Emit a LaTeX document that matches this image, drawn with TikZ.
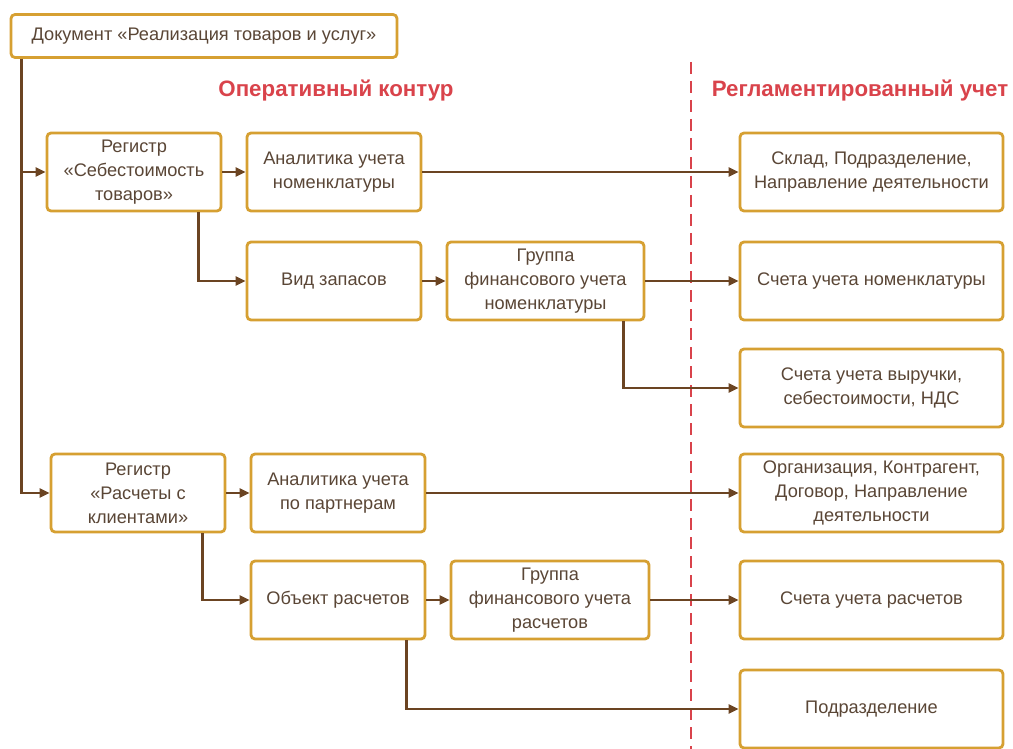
\documentclass[tikz,border=0pt]{standalone}
\usepackage{fontspec}
\setmainfont{Liberation Sans}
\usetikzlibrary{arrows.meta}
\definecolor{bordc}{HTML}{D6A032}
\definecolor{linec}{HTML}{6B4422}
\definecolor{txtc}{HTML}{5A4636}
\definecolor{redc}{HTML}{D9434B}
\tikzset{
  box/.style={draw=bordc, line width=2.8pt, rounded corners=4pt, fill=white,
    align=center, text=txtc, font=\fontsize{18.2}{24}\selectfont, inner sep=1pt},
  arr/.style={draw=linec, line width=2.8pt, -{Triangle[length=10pt,width=9pt]}},
  ttl/.style={text=redc, font=\fontsize{22.3}{26}\selectfont\bfseries},
  divider/.style={draw=redc, line width=2.4pt, dash pattern=on 12pt off 7pt}
}
\begin{document}
\begin{tikzpicture}[x=1pt,y=-1pt]
\useasboundingbox (0,0) rectangle (1013,749);
\draw[divider] (691,62) -- (691,749);
\node[ttl] (t1) at (336,91) {Оперативный контур};
\node[ttl] (t2) at (860,91) {Регламентированный учет};

\node[box, minimum width=386pt, minimum height=43pt] (doc) at (204,36) {Документ «Реализация товаров и услуг»};
\node[box, minimum width=174pt, minimum height=78pt] (reg1) at (134,172) {Регистр\\«Себестоимость\\товаров»};
\node[box, minimum width=174pt, minimum height=78pt] (anal1) at (334,172) {Аналитика учета\\номенклатуры};
\node[box, minimum width=263pt, minimum height=78pt] (r1) at (871.5,172) {Склад, Подразделение,\\Направление деятельности};
\node[box, minimum width=174pt, minimum height=78pt] (vid) at (334,281) {Вид запасов};
\node[box, minimum width=197pt, minimum height=78pt] (g1) at (545.5,281) {Группа\\финансового учета\\номенклатуры};
\node[box, minimum width=263pt, minimum height=78pt] (r2) at (871.5,281) {Счета учета номенклатуры};
\node[box, minimum width=263pt, minimum height=78pt] (r3) at (871.5,388) {Счета учета выручки,\\себестоимости, НДС};
\node[box, minimum width=174pt, minimum height=78pt] (reg2) at (138,493) {Регистр\\«Расчеты с\\клиентами»};
\node[box, minimum width=174pt, minimum height=78pt] (anal2) at (338,493) {Аналитика учета\\по партнерам};
\node[box, minimum width=263pt, minimum height=78pt] (r4) at (871.5,493) {Организация, Контрагент,\\Договор, Направление\\деятельности};
\node[box, minimum width=174pt, minimum height=78pt] (obj) at (338,600) {Объект расчетов};
\node[box, minimum width=198pt, minimum height=78pt] (g2) at (550,600) {Группа\\финансового учета\\расчетов};
\node[box, minimum width=263pt, minimum height=78pt] (r5) at (871.5,600) {Счета учета расчетов};
\node[box, minimum width=263pt, minimum height=78pt] (r6) at (871.5,709) {Подразделение};

\coordinate (trunk) at ([xshift=12pt]doc.south west);
\coordinate (b1) at ([xshift=-24pt]reg1.south east);
\coordinate (b2) at ([xshift=-22pt]g1.south east);
\coordinate (b3) at ([xshift=-24pt]reg2.south east);
\coordinate (b4) at ([xshift=-20pt]obj.south east);

\draw[arr] (trunk) |- (reg1.west);
\draw[arr] (trunk) |- (reg2.west);
\draw[arr] (reg1.east) -- (anal1.west);
\draw[arr] (anal1.east) -- (r1.west);
\draw[arr] (b1) |- (vid.west);
\draw[arr] (vid.east) -- (g1.west);
\draw[arr] (g1.east) -- (r2.west);
\draw[arr] (b2) |- (r3.west);
\draw[arr] (reg2.east) -- (anal2.west);
\draw[arr] (anal2.east) -- (r4.west);
\draw[arr] (b3) |- (obj.west);
\draw[arr] (obj.east) -- (g2.west);
\draw[arr] (g2.east) -- (r5.west);
\draw[arr] (b4) |- (r6.west);
\end{tikzpicture}
\end{document}
